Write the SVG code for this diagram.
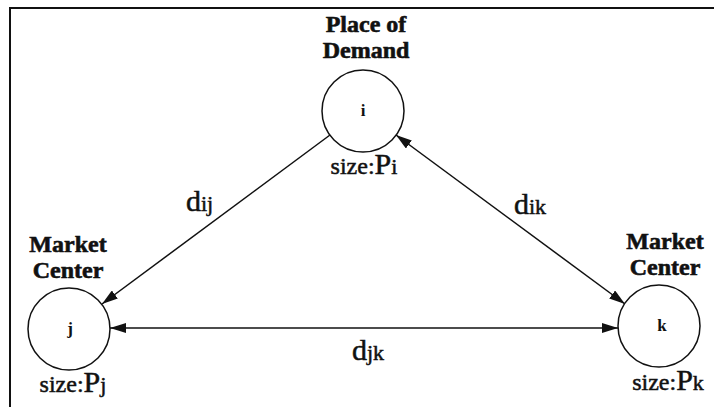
<svg xmlns="http://www.w3.org/2000/svg" width="714" height="407" viewBox="0 0 714 407">
<style>
  .bg { fill: #ffffff; }
  .frame { stroke: #111; stroke-width: 2; fill: none; }
  .node { fill: #ffffff; stroke: #111; stroke-width: 1.5; }
  text { font-family: 'Liberation Serif', 'DejaVu Serif', serif; fill: #111; }
  .title { font-weight: bold; font-size: 24px; text-anchor: middle; stroke: #111; stroke-width: 0.6; }
  .id { font-weight: bold; font-size: 17px; text-anchor: middle; }
  .size { font-size: 24px; text-anchor: middle; stroke: #111; stroke-width: 0.5; }
  .big { font-size: 30px; }
  .sub { font-size: 22px; }
  .edge { stroke: #111; stroke-width: 1.5; fill: none; }
  .elabel { font-size: 22px; text-anchor: start; stroke: #111; stroke-width: 0.5; }
</style>
<defs>
  <marker id="arrow" viewBox="0 0 16 10" refX="16" refY="5" markerWidth="16" markerHeight="10" markerUnits="userSpaceOnUse" orient="auto-start-reverse">
    <path d="M0,0 L16,5 L0,10 z" fill="#111"/>
  </marker>
</defs>
<rect class="bg" x="0" y="0" width="714" height="407"/>
<path class="frame" d="M10,407 L10,8 L714,8"/>

<g id="connectors">
  <line id="edge-ij" class="edge" x1="330" y1="135" x2="102" y2="304" marker-end="url(#arrow)"/>
  <line id="edge-ik" class="edge" x1="396" y1="135" x2="625" y2="304" marker-start="url(#arrow)" marker-end="url(#arrow)"/>
  <line id="edge-jk" class="edge" x1="110" y1="328" x2="618" y2="328" marker-start="url(#arrow)" marker-end="url(#arrow)"/>
  <text class="elabel" x="186" y="211"><tspan class="big">d</tspan>ij</text>
  <text class="elabel" x="514" y="214"><tspan class="big">d</tspan>ik</text>
  <text class="elabel" x="352" y="360"><tspan class="big">d</tspan>jk</text>
</g>

<g id="node-i">
  <text class="title" x="366" y="32">Place of</text>
  <text class="title" x="366" y="58">Demand</text>
  <circle class="node" cx="363" cy="111" r="41"/>
  <text class="id" x="363" y="116">i</text>
  <text class="size" x="364" y="174">size:<tspan class="big">P</tspan><tspan class="sub">i</tspan></text>
</g>

<g id="node-j">
  <text class="title" x="68" y="252">Market</text>
  <text class="title" x="68" y="278">Center</text>
  <circle class="node" cx="69" cy="329" r="41"/>
  <text class="id" x="70" y="334">j</text>
  <text class="size" x="73" y="392">size:<tspan class="big">P</tspan><tspan class="sub">j</tspan></text>
</g>

<g id="node-k">
  <text class="title" x="665" y="249">Market</text>
  <text class="title" x="665" y="275">Center</text>
  <circle class="node" cx="659" cy="326" r="41"/>
  <text class="id" x="662" y="331">k</text>
  <text class="size" x="668" y="390">size:<tspan class="big">P</tspan><tspan class="sub">k</tspan></text>
</g>
</svg>
